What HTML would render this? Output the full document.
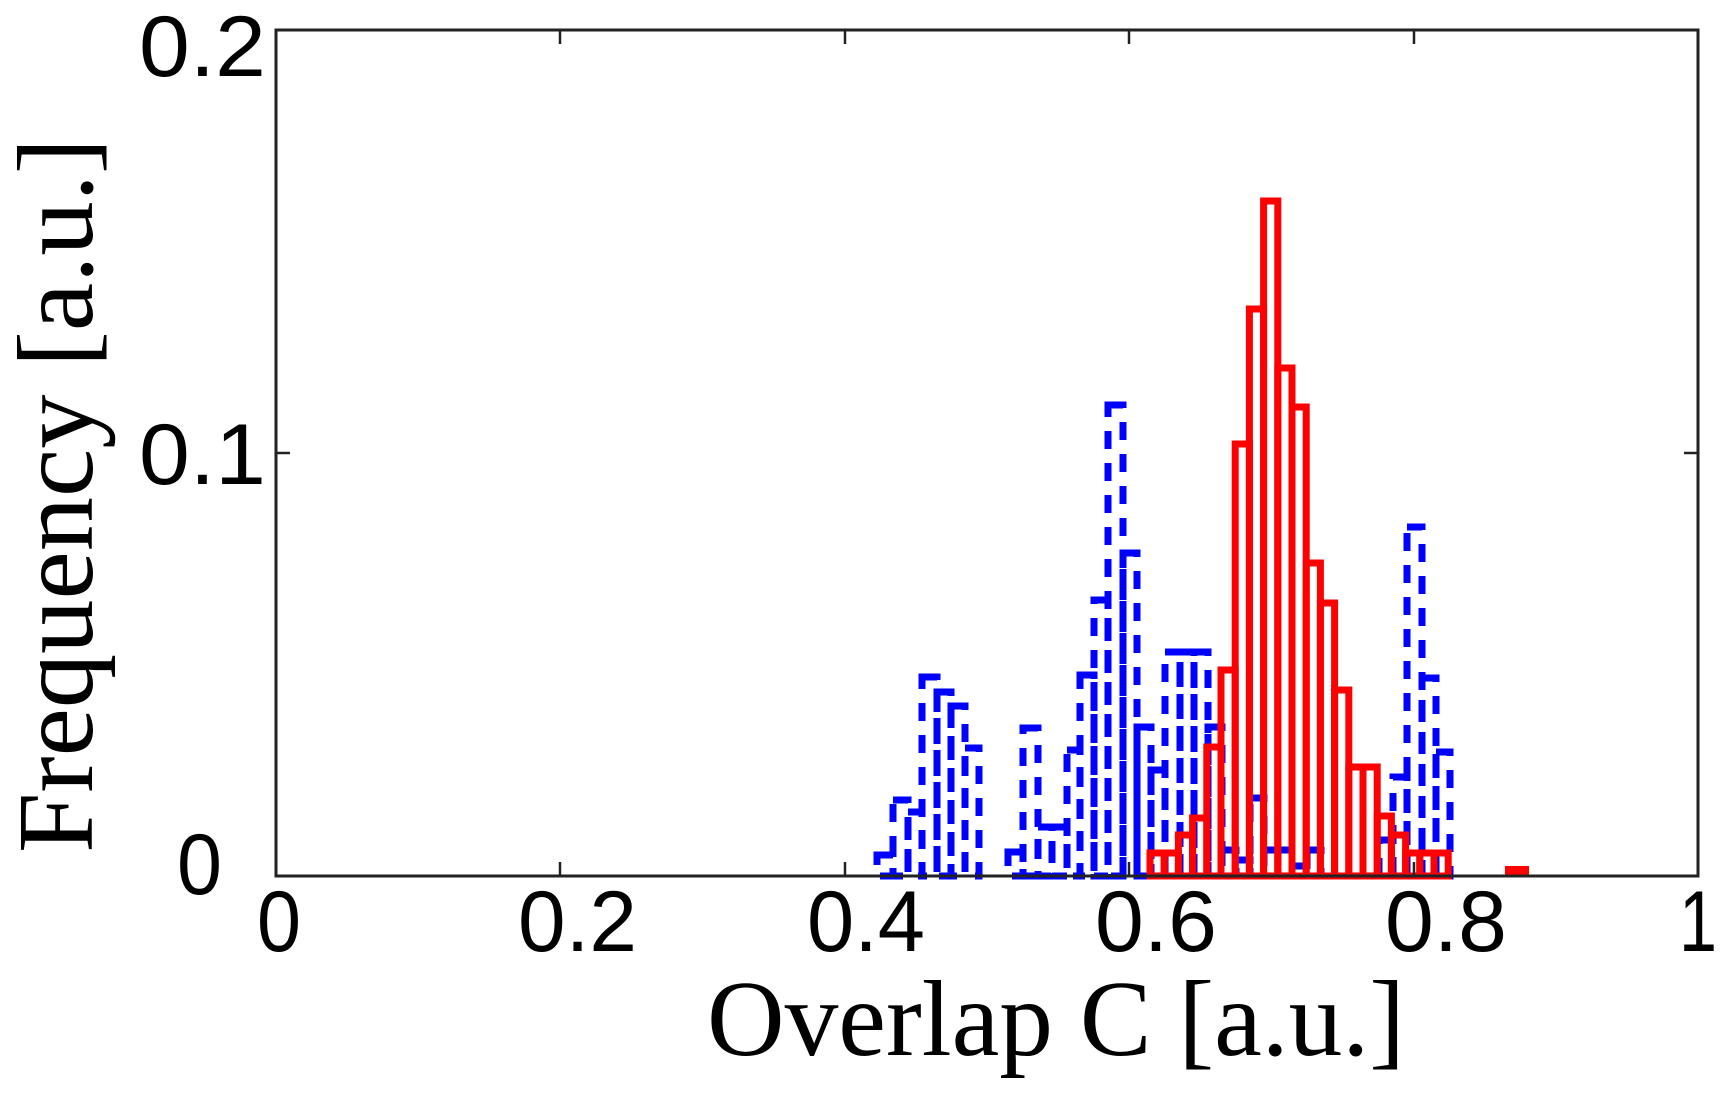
<!DOCTYPE html>
<html><head><meta charset="utf-8"><style>
html,body{margin:0;padding:0;background:#fff;}
svg{display:block;}
</style></head><body>
<svg width="1732" height="1095" viewBox="0 0 1732 1095" xmlns="http://www.w3.org/2000/svg">
<rect width="1732" height="1095" fill="#fff"/>
<!-- blue dashed bars -->
<g fill="none" stroke="#0000ff" stroke-width="7" stroke-dasharray="18 14">
<rect x="877" y="855" width="16" height="21"/>
<rect x="893" y="800" width="15" height="76"/>
<rect x="908" y="812" width="14" height="64"/>
<rect x="922" y="677" width="15" height="199"/>
<rect x="937" y="692" width="14" height="184"/>
<rect x="951" y="706" width="14" height="170"/>
<rect x="965" y="748" width="14" height="128"/>
<rect x="1008" y="852" width="15" height="24"/>
<rect x="1023" y="728" width="15" height="148"/>
<rect x="1038" y="827" width="14" height="49"/>
<rect x="1052" y="827" width="15" height="49"/>
<rect x="1067" y="750" width="13" height="126"/>
<rect x="1080" y="675" width="14" height="201"/>
<rect x="1094" y="600" width="14" height="276"/>
<rect x="1108" y="405" width="15" height="471"/>
<rect x="1123" y="553" width="14" height="323"/>
<rect x="1137" y="727" width="14" height="149"/>
<rect x="1151" y="770" width="14" height="106"/>
<rect x="1165" y="652" width="15" height="224"/>
<rect x="1180" y="652" width="14" height="224"/>
<rect x="1194" y="652" width="14" height="224"/>
<rect x="1208" y="727" width="14" height="149"/>
<rect x="1222" y="850" width="14" height="26"/>
<rect x="1236" y="860" width="14" height="16"/>
<rect x="1250" y="798" width="14" height="78"/>
<rect x="1264" y="850" width="14" height="26"/>
<rect x="1278" y="850" width="14" height="26"/>
<rect x="1292" y="866" width="15" height="10"/>
<rect x="1307" y="850" width="14" height="26"/>
<rect x="1379" y="840" width="14" height="36"/>
<rect x="1393" y="777" width="14" height="99"/>
<rect x="1407" y="527" width="15" height="349"/>
<rect x="1422" y="678" width="14" height="198"/>
<rect x="1436" y="752" width="14" height="124"/>
</g>
<!-- red bars -->
<g fill="none" stroke="#ff0000" stroke-width="7">
<rect x="1150" y="853" width="14.2" height="23"/>
<rect x="1164.2" y="853" width="14.2" height="23"/>
<rect x="1178.4" y="835" width="14.2" height="41"/>
<rect x="1192.6" y="818" width="14.2" height="58"/>
<rect x="1206.8" y="747" width="14.2" height="129"/>
<rect x="1221" y="670" width="14.2" height="206"/>
<rect x="1235.2" y="444" width="14.2" height="432"/>
<rect x="1249.4" y="309" width="14.2" height="567"/>
<rect x="1263.6" y="201" width="14.2" height="675"/>
<rect x="1277.8" y="368" width="14.2" height="508"/>
<rect x="1292" y="407" width="14.2" height="469"/>
<rect x="1306.2" y="563" width="14.2" height="313"/>
<rect x="1320.4" y="603" width="14.2" height="273"/>
<rect x="1334.6" y="690" width="14.2" height="186"/>
<rect x="1348.8" y="767" width="14.2" height="109"/>
<rect x="1363" y="767" width="14.2" height="109"/>
<rect x="1377.2" y="816" width="14.2" height="60"/>
<rect x="1391.4" y="835" width="14.2" height="41"/>
<rect x="1405.6" y="853" width="14.2" height="23"/>
<rect x="1419.8" y="853" width="14.2" height="23"/>
<rect x="1434" y="853" width="14.2" height="23"/>
</g>
<rect x="1505" y="866" width="24" height="11" fill="#ff0000"/>
<!-- axes -->
<rect x="276" y="30" width="1422" height="846" fill="none" stroke="#222" stroke-width="3"/>
<g stroke="#222" stroke-width="2.5">
<line x1="560" y1="876" x2="560" y2="862"/><line x1="845" y1="876" x2="845" y2="862"/>
<line x1="1129" y1="876" x2="1129" y2="862"/><line x1="1414" y1="876" x2="1414" y2="862"/>
<line x1="560" y1="30" x2="560" y2="44"/><line x1="845" y1="30" x2="845" y2="44"/>
<line x1="1129" y1="30" x2="1129" y2="44"/><line x1="1414" y1="30" x2="1414" y2="44"/>
<line x1="276" y1="453" x2="290" y2="453"/><line x1="1698" y1="453" x2="1684" y2="453"/>
</g>
<g font-family="Liberation Sans, sans-serif" font-size="86" fill="#000">
<text x="139" y="76" textLength="127" lengthAdjust="spacingAndGlyphs">0.2</text>
<text x="139" y="484" textLength="127" lengthAdjust="spacingAndGlyphs">0.1</text>
<text x="177" y="894" textLength="45" lengthAdjust="spacingAndGlyphs">0</text>
<text x="257" y="951" textLength="44" lengthAdjust="spacingAndGlyphs">0</text>
<text x="518" y="951" textLength="119" lengthAdjust="spacingAndGlyphs">0.2</text>
<text x="807" y="951" textLength="118" lengthAdjust="spacingAndGlyphs">0.4</text>
<text x="1095" y="951" textLength="122" lengthAdjust="spacingAndGlyphs">0.6</text>
<text x="1385" y="951" textLength="122" lengthAdjust="spacingAndGlyphs">0.8</text>
<text x="1679" y="951" textLength="38" lengthAdjust="spacingAndGlyphs">1</text>
</g>
<text x="707" y="1055" font-family="Liberation Serif, serif" font-size="108" textLength="698" lengthAdjust="spacingAndGlyphs">Overlap C [a.u.]</text>
<text transform="translate(92,853) rotate(-90)" x="0" y="0" font-family="Liberation Serif, serif" font-size="108" textLength="715" lengthAdjust="spacingAndGlyphs">Frequency [a.u.]</text>
</svg>
</body></html>
